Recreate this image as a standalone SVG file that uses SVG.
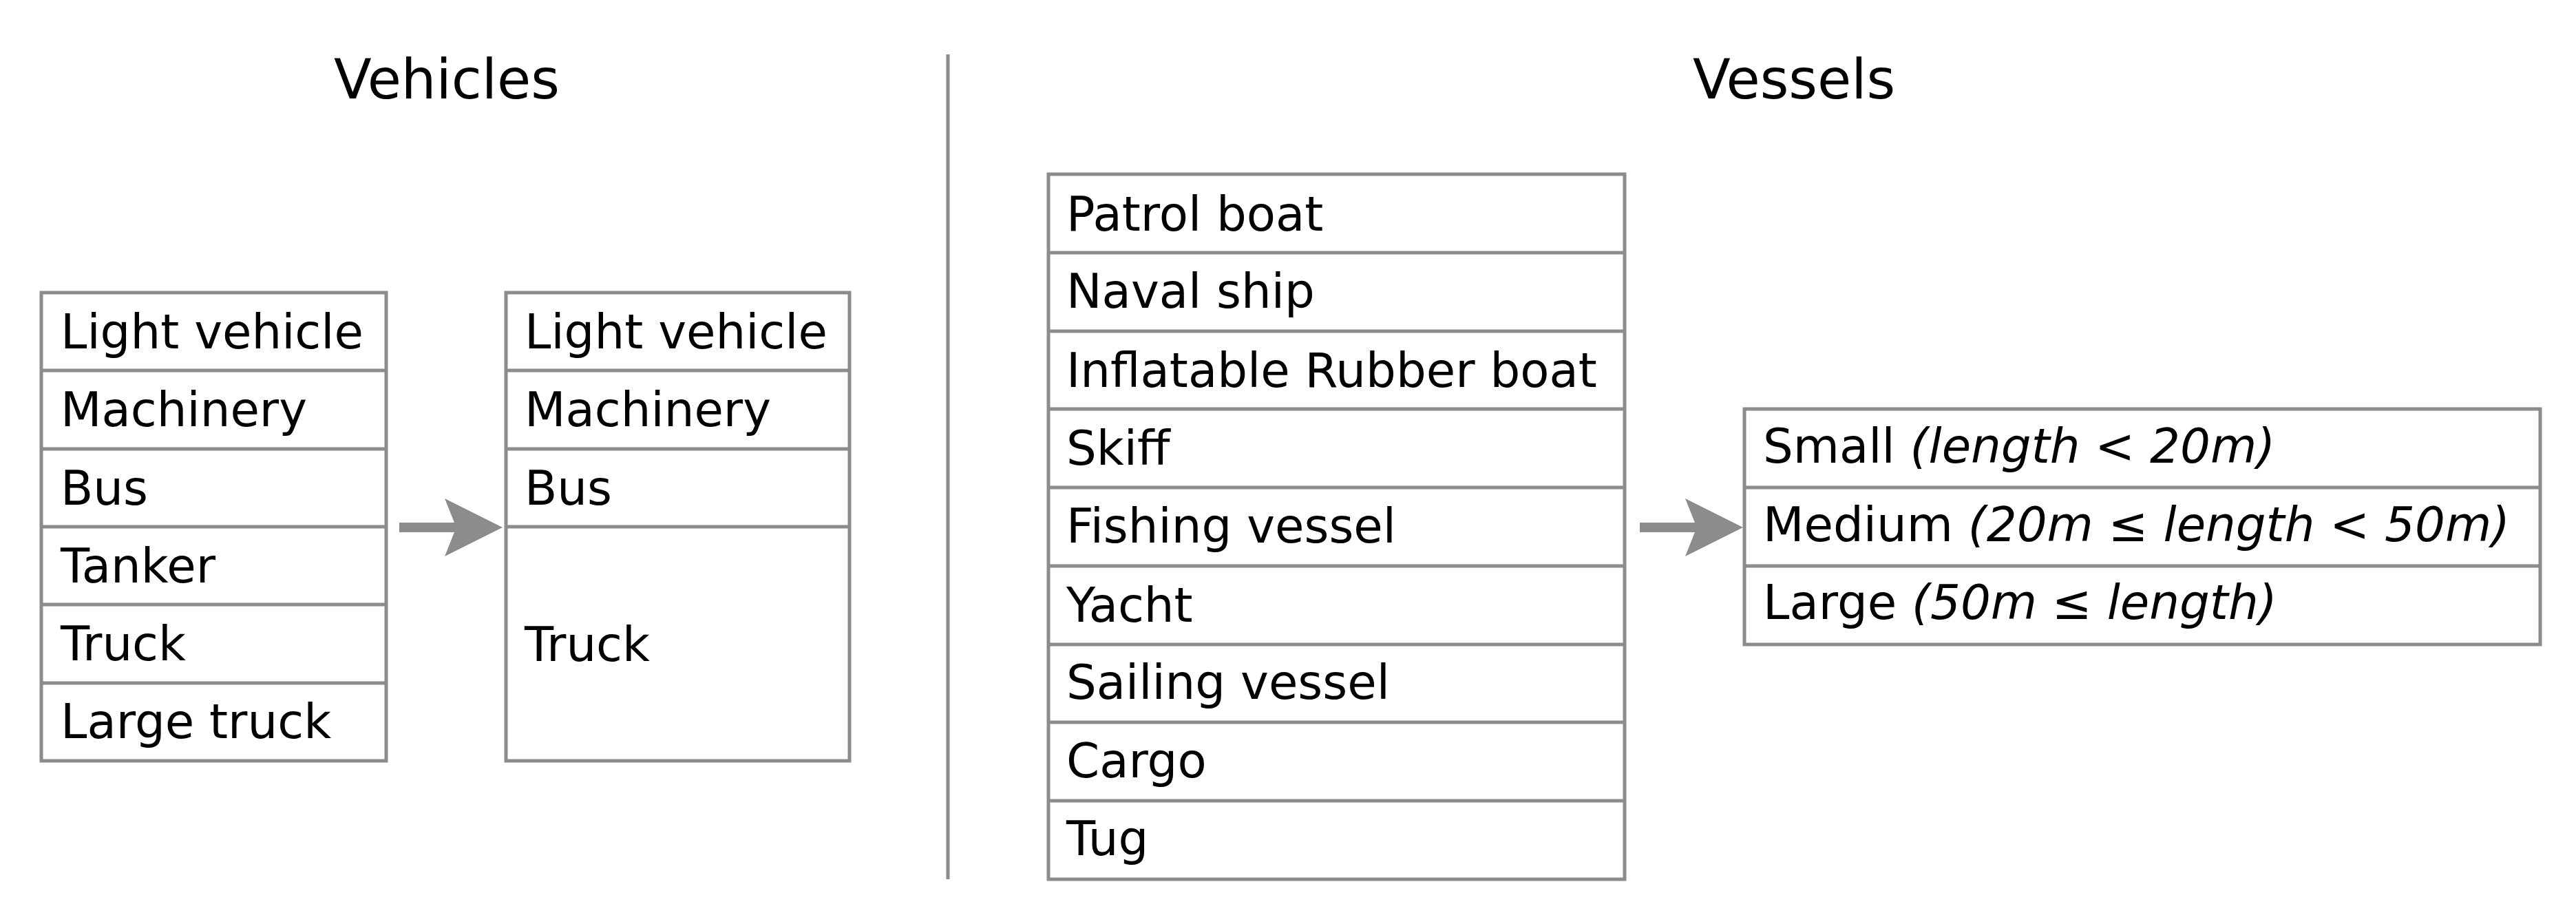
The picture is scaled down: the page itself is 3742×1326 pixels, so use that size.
<svg xmlns="http://www.w3.org/2000/svg" width="3742" height="1326" viewBox="0 0 3742 1326">
<style>
.b{fill:#fff;stroke:#8c8c8c;stroke-width:5}
.l{stroke:#8c8c8c;stroke-width:5}
text{font-family:"DejaVu Sans",sans-serif;font-size:69px;fill:#000}
.t{font-size:80px;text-anchor:middle}
.i{font-style:italic}
</style>
<defs><marker id="a" markerWidth="6" markerHeight="6" refX="5" refY="3" orient="auto" markerUnits="strokeWidth"><path d="M0,0 L6,3 L0,6 L1.2,3 z" fill="#8c8c8c"/></marker></defs>
<text class="t" x="649" y="143">Vehicles</text>
<text class="t" x="2606" y="143">Vessels</text>
<line class="l" x1="1377" y1="79" x2="1377" y2="1277"/>
<g id="vehicles6">
<rect class="b" x="60" y="425" width="501" height="680"/>
<path class="l" d="M60 538H561M60 652H561M60 765H561M60 878H561M60 992H561"/>
<text x="88" y="506">Light vehicle</text><text x="88" y="619">Machinery</text><text x="88" y="733">Bus</text><text x="88" y="846">Tanker</text><text x="88" y="959">Truck</text><text x="88" y="1072">Large truck</text>
</g>
<g id="vehicles4">
<rect class="b" x="735" y="425" width="499" height="680"/>
<path class="l" d="M735 538H1234M735 652H1234M735 765H1234"/>
<text x="762" y="506">Light vehicle</text><text x="762" y="619">Machinery</text><text x="762" y="733">Bus</text><text x="762" y="960">Truck</text>
</g>
<g id="vessels">
<rect class="b" x="1523" y="253" width="837" height="1024"/>
<path class="l" d="M1523 367H2360M1523 481H2360M1523 594H2360M1523 708H2360M1523 822H2360M1523 936H2360M1523 1049H2360M1523 1163H2360"/>
<text x="1549" y="335">Patrol boat</text><text x="1549" y="447">Naval ship</text><text x="1549" y="562">Inflatable Rubber boat</text><text x="1549" y="675">Skiff</text><text x="1549" y="788">Fishing vessel</text><text x="1549" y="903">Yacht</text><text x="1549" y="1015">Sailing vessel</text><text x="1549" y="1129">Cargo</text><text x="1549" y="1242">Tug</text>
</g>
<g id="sizes">
<rect class="b" x="2534" y="594" width="1156" height="342"/>
<path class="l" d="M2534 708H3690M2534 822H3690"/>
<text x="2561" y="672">Small <tspan class="i">(length &lt; 20m)</tspan></text>
<text x="2561" y="786">Medium <tspan class="i">(20m ≤ length &lt; 50m)</tspan></text>
<text x="2561" y="899">Large <tspan class="i">(50m ≤ length)</tspan></text>
</g>
<g id="connectors">
<line x1="580" y1="766" x2="716" y2="766" stroke="#8c8c8c" stroke-width="14" marker-end="url(#a)"/>
<line x1="2382" y1="766" x2="2518" y2="766" stroke="#8c8c8c" stroke-width="14" marker-end="url(#a)"/>
</g>
</svg>
